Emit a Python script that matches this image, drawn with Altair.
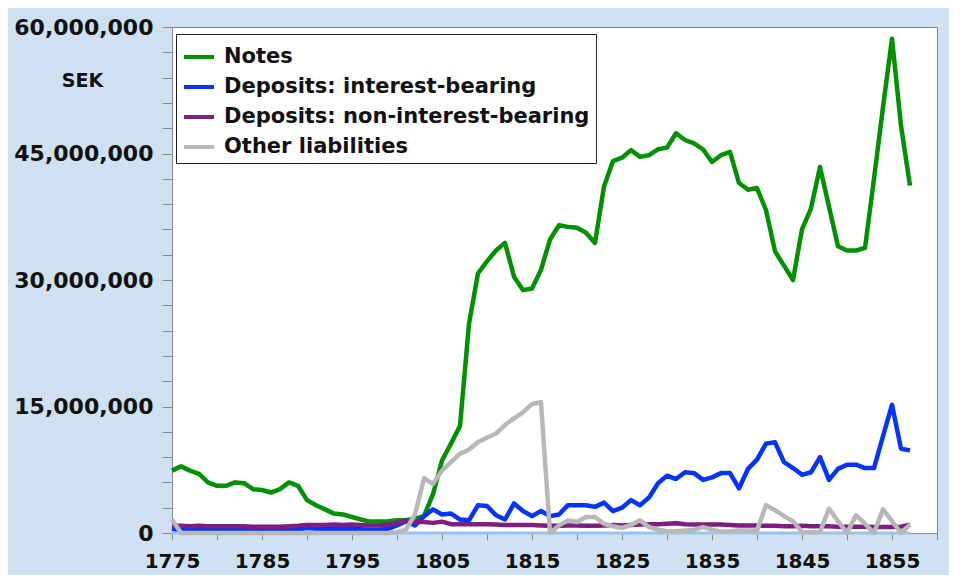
import altair as alt
import pandas as pd

years = list(range(1775, 1858))

# values in millions of SEK
notes = [7.4, 7.9, 7.4, 7.0, 6.0, 5.6, 5.6, 6.0, 5.9, 5.2,
         5.1, 4.8, 5.2, 6.0, 5.6, 3.9, 3.3, 2.8, 2.3, 2.2,
         1.9, 1.6, 1.35, 1.35, 1.4, 1.5, 1.55, 1.7, 2.0, 4.6,
         8.6, 10.6, 12.7, 24.8, 30.8, 32.2, 33.5, 34.4, 30.4, 28.8,
         29.0, 31.2, 34.8, 36.5, 36.3, 36.2, 35.6, 34.4, 41.1, 44.1,
         44.5, 45.4, 44.6, 44.8, 45.5, 45.7, 47.4, 46.6, 46.2, 45.5,
         44.0, 44.8, 45.2, 41.5, 40.7, 40.9, 38.3, 33.4, 31.7, 30.0,
         36.0, 38.5, 43.4, 38.7, 34.0, 33.5, 33.5, 33.8, 42.0, 50.5,
         58.6, 48.3, 41.2]

dep_interest = [0.5, 0.35, 0.35, 0.4, 0.4, 0.4, 0.4, 0.4, 0.45, 0.4,
                0.35, 0.35, 0.35, 0.4, 0.45, 0.6, 0.5, 0.5, 0.45, 0.5,
                0.45, 0.45, 0.4, 0.4, 0.5, 0.9, 1.4, 0.9, 2.0, 2.8,
                2.2, 2.3, 1.6, 1.5, 3.3, 3.2, 2.1, 1.6, 3.5, 2.6,
                2.0, 2.6, 2.0, 2.2, 3.3, 3.3, 3.3, 3.1, 3.6, 2.6,
                3.0, 3.9, 3.3, 4.2, 5.9, 6.8, 6.4, 7.2, 7.1, 6.3,
                6.6, 7.1, 7.1, 5.3, 7.6, 8.7, 10.6, 10.75, 8.4, 7.7,
                6.9, 7.2, 9.0, 6.3, 7.6, 8.1, 8.1, 7.7, 7.7, 11.5,
                15.2, 10.0, 9.8]

dep_noninterest = [0.9, 0.85, 0.8, 0.85, 0.8, 0.8, 0.8, 0.8, 0.8, 0.75,
                   0.75, 0.75, 0.75, 0.8, 0.85, 0.95, 0.95, 0.95, 1.0, 0.95,
                   1.0, 0.95, 0.9, 0.9, 1.0, 1.2, 1.4, 1.3, 1.3, 1.2,
                   1.35, 1.05, 1.05, 1.05, 1.05, 1.05, 1.0, 0.95, 0.95, 0.95,
                   0.95, 0.9, 0.85, 0.85, 0.9, 0.9, 0.85, 0.85, 0.9, 0.95,
                   0.9, 0.95, 1.0, 1.05, 1.05, 1.1, 1.15, 1.05, 1.0, 1.0,
                   1.0, 1.0, 0.95, 0.9, 0.9, 0.9, 0.85, 0.85, 0.8, 0.8,
                   0.85, 0.8, 0.8, 0.8, 0.75, 0.75, 0.75, 0.75, 0.7, 0.7,
                   0.7, 0.75, 1.0]

other = [1.6, 0.0, 0.0, 0.0, 0.0, 0.0, 0.0, 0.0, 0.0, 0.0,
         0.0, 0.0, 0.0, 0.0, 0.0, 0.0, 0.0, 0.0, 0.0, 0.0,
         0.0, 0.0, 0.0, 0.0, 0.0, 0.1, 0.4, 2.2, 6.5, 5.8,
         7.4, 8.4, 9.4, 9.9, 10.8, 11.3, 11.8, 12.8, 13.6, 14.3,
         15.3, 15.5, 0.0, 0.9, 1.5, 1.3, 1.9, 1.9, 1.1, 0.8,
         0.6, 0.95, 1.5, 0.7, 0.4, 0.2, 0.2, 0.3, 0.4, 0.7,
         0.4, 0.15, 0.2, 0.3, 0.3, 0.3, 3.3, 2.7, 2.0, 1.4,
         0.1, 0.1, 0.1, 2.9, 1.4, 0.0, 2.1, 1.1, 0.0, 2.8,
         1.4, 0.0, 1.0]

series_names = ["Notes", "Deposits: interest-bearing",
                "Deposits: non-interest-bearing", "Other liabilities"]
series_colors = ["#009100", "#0433FF", "#7E1E80", "#B8B8B8"]

rows = []
for name, vals in zip(series_names, [notes, dep_interest, dep_noninterest, other]):
    for yr, v in zip(years, vals):
        rows.append({"year": yr, "value": v * 1_000_000, "series": name})
df = pd.DataFrame(rows)

y_ticks = list(range(0, 60_000_001, 3_000_000))
x_ticks = list(range(1775, 1861, 5))

x_scale = alt.Scale(domain=[1775, 1860], nice=False, zero=False)
y_scale = alt.Scale(domain=[0, 60_000_000], nice=False)

x_axis = alt.Axis(
    values=x_ticks, format="d",
    labelExpr="(datum.value - 1775) % 10 === 0 ? datum.label : ''",
    grid=False, tickSize=7, tickColor="#8C8C8C", domainColor="#8C8C8C",
    labelFontSize=20, labelFontWeight="bold", labelColor="#111111",
    labelPadding=11, title=None, labelFlush=False, labelOverlap=False,
)

y_axis = alt.Axis(
    values=y_ticks,
    labelExpr="datum.value % 15000000 === 0 ? format(datum.value, ',') : ''",
    gridOpacity={"condition": {"test": "datum.value % 15000000 === 0 && datum.value > 0", "value": 1}, "value": 0},
    gridDash=[4, 3], gridColor="#A6A6A6", gridWidth=1,
    tickSize=10, tickColor="#8C8C8C", domainColor="#8C8C8C",
    labelFontSize=22, labelFontWeight="bold", labelColor="#111111",
    labelPadding=9, labelOverlap=False, labelFlush=False,
    title="SEK", titleAngle=0, titleX=-90, titleY=53,
    titleAlign="center", titleBaseline="middle",
    titleFontSize=19, titleFontWeight="bold", titleColor="#111111",
)

base = alt.Chart(df)

zero_band = base.mark_rule(color="#9DC3E6", strokeWidth=3).encode(
    x=alt.X("min(year):Q", scale=x_scale, axis=x_axis),
    x2=alt.X2("max(year)"),
    y=alt.datum(0, scale=y_scale, axis=y_axis),
)

lines = base.mark_line(strokeWidth=4.5, strokeJoin="round").encode(
    x=alt.X("year:Q", scale=x_scale, axis=x_axis),
    y=alt.Y("value:Q", scale=y_scale, axis=y_axis),
    color=alt.Color(
        "series:N",
        scale=alt.Scale(domain=series_names, range=series_colors),
        sort=series_names,
        legend=alt.Legend(
            title=None, orient="none", legendX=4, legendY=7,
            fillColor="white", strokeColor="#222222",
            padding=6, rowPadding=3, symbolType="stroke",
            symbolSize=900, symbolStrokeWidth=4, labelOffset=8,
            labelFontSize=21, labelFontWeight="bold", labelColor="#111111",
            labelLimit=600,
        ),
    ),
)

chart = alt.layer(zero_band, lines).properties(
    width=765, height=506,
    autosize=alt.AutoSizeParams(type="none"),
    padding={"left": 164, "top": 19, "right": 12, "bottom": 42},
    background="#CFE0F2",
).configure(font="DejaVu Sans").configure_view(
    fill="white", stroke="#808080", strokeWidth=1
)

chart.save("out.html", embed_options={"renderer": "svg", "actions": False})
